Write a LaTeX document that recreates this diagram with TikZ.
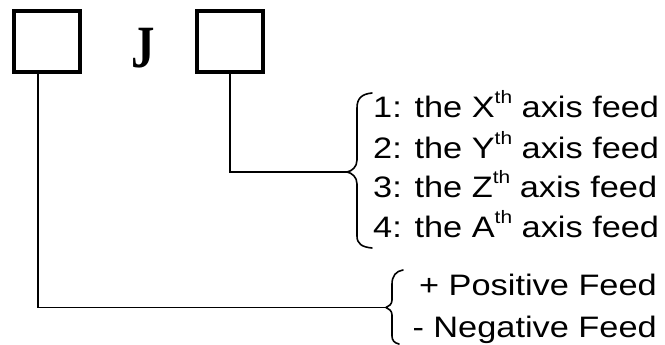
\documentclass[tikz,border=0pt]{standalone}
\usepackage{fontspec}
\usepackage{graphicx}
\setmainfont{Liberation Sans}
\newfontfamily\jserif{Liberation Serif}
\newcommand\supth{\raisebox{14bp}{\fontsize{18bp}{18bp}\selectfont th}}
\newcommand\wtext[1]{\scalebox{1.16}[1]{#1}}
\begin{document}
\begin{tikzpicture}[x=1bp,y=-1bp,
  box/.style={draw, line width=4bp, minimum width=66bp, minimum height=61bp, inner sep=0pt, outer sep=0pt},
  conn/.style={line width=1.8bp},
  bracestyle/.style={line width=1.6bp, line cap=round, line join=round},
  item/.style={anchor=base west, inner sep=0pt, font=\fontsize{29.6bp}{35bp}\selectfont}]
\useasboundingbox (0,0) rectangle (665,344);
\node[box] (b1) at (47,41.5) {};
\node[box] (b2) at (230,41.5) {};
\node[anchor=north, inner sep=0pt] (J) at (143,28) {\scalebox{0.78}[1]{\fontsize{60bp}{60bp}\selectfont\jserif\bfseries J}};
% tips of braces
\coordinate (t1) at (347,172);
\coordinate (t2) at (386,307.5);
\draw[conn] (b2.south) |- (t1);
\draw[conn] ([xshift=-9bp]b1.south) |- (t2);
% upper brace
\draw[bracestyle] (372,93) .. controls (362,94) and (357,98) .. (357,108) -- (357,160)
  .. controls (357,167) and (352,171) .. (t1)
  .. controls (352,173) and (357,177) .. (357,184) -- (357,236)
  .. controls (357,244) and (362,247) .. (372,248);
% lower brace
\draw[bracestyle] (403,270) .. controls (396,271) and (392,276) .. (392,284) -- (392,300)
  .. controls (392,304) and (389,306.5) .. (t2)
  .. controls (389,308.5) and (392,311) .. (392,315) -- (392,336)
  .. controls (392,340) and (394,343) .. (399,344);
\node[item] (l1) at (373,117) {\wtext{1: the X\supth{} axis feed}};
\node[item] (l2) at (373,158) {\wtext{2: the Y\supth{} axis feed}};
\node[item] (l3) at (373,197.5) {\wtext{3: the Z\supth{} axis feed}};
\node[item] (l4) at (373,237.5) {\wtext{4: the A\supth{} axis feed}};
\node[item, anchor=base east] (p1) at (657,295) {\scalebox{1.16}[1]{+ Positive Feed}};
\node[item, anchor=base east] (p2) at (657,337) {\scalebox{1.16}[1]{- Negative Feed}};
\end{tikzpicture}
\end{document}
